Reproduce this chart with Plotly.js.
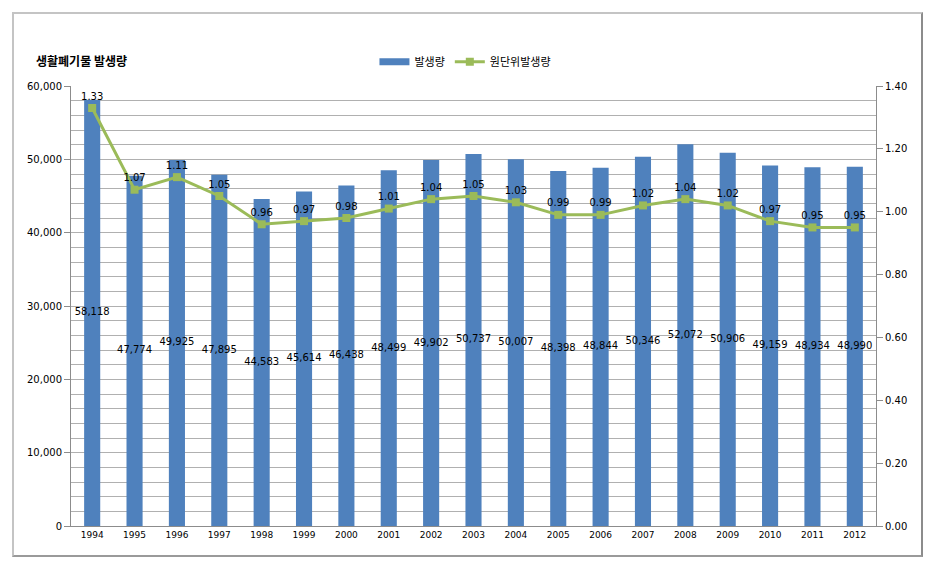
<!DOCTYPE html>
<html>
<head>
<meta charset="utf-8">
<script src="https://cdn.plot.ly/plotly-3.0.1.min.js"></script>
<style>
  html, body { margin: 0; padding: 0; background: #fff; }
  #wrap { position: relative; width: 930px; height: 564px; }
  #chart { position: absolute; left: 0; top: 0; width: 930px; height: 564px; }
  #frame { position: absolute; left: 12px; top: 12px; width: 907px; height: 541px;
           border-left: 2px solid #c4c4c4; border-top: 2px solid #c4c4c4;
           border-right: 2px solid #8c8c8c; border-bottom: 2px solid #9a9a9a;
           pointer-events: none; }
</style>
</head>
<body>
<div id="wrap">
  <div id="chart"></div>
  <div id="frame"></div>
</div>
<script>
const years = ['1994','1995','1996','1997','1998','1999','2000','2001','2002','2003',
               '2004','2005','2006','2007','2008','2009','2010','2011','2012'];
const generation = [58118, 47774, 49925, 47895, 44583, 45614, 46438, 48499, 49902, 50737,
                    50007, 48398, 48844, 50346, 52072, 50906, 49159, 48934, 48990];
const perUnit = [1.33, 1.07, 1.11, 1.05, 0.96, 0.97, 0.98, 1.01, 1.04, 1.05,
                 1.03, 0.99, 0.99, 1.02, 1.04, 1.02, 0.97, 0.95, 0.95];
const leftTicks = [0, 10000, 20000, 30000, 40000, 50000, 60000];
const rightTicks = [0, 0.2, 0.4, 0.6, 0.8, 1.0, 1.2, 1.4];

const chartTitle = '생활폐기물 발생량';
const seriesBar = '발생량';
const seriesLine = '원단위발생량';

const labelFont = { family: 'DejaVu Sans, sans-serif', size: 10, color: '#000' };
const barColor = '#4F81BD';
const lineColor = '#9BBB59';

const barTrace = {
  type: 'bar', x: years, y: generation, name: seriesBar, showlegend: false,
  marker: { color: barColor }, yaxis: 'y', hoverinfo: 'skip'
};
// legend-only swatch drawn as a wide rectangle like the reference
const barLegend = {
  type: 'scatter', mode: 'lines', x: [null], y: [null], name: seriesBar,
  line: { color: barColor, width: 7 }, yaxis: 'y', hoverinfo: 'skip', legendrank: 1
};
const barLabels = {
  type: 'scatter', mode: 'text', x: years,
  y: generation.map(v => v / 2),
  text: generation.map(v => v.toLocaleString('en-US')),
  textposition: 'middle center', textfont: labelFont,
  showlegend: false, yaxis: 'y', hoverinfo: 'skip'
};
const lineTrace = {
  type: 'scatter', mode: 'lines+markers+text', x: years, y: perUnit, name: seriesLine,
  yaxis: 'y2', legendrank: 2,
  line: { color: lineColor, width: 3 },
  marker: { symbol: 'square', size: 8, color: lineColor },
  text: perUnit.map(v => v.toFixed(2)),
  textposition: 'top center', textfont: labelFont,
  hoverinfo: 'skip'
};

const layout = {
  width: 930, height: 564,
  margin: { l: 71, r: 54, t: 86, b: 38 },
  paper_bgcolor: '#fff', plot_bgcolor: '#fff',
  title: {
    text: '<b>' + chartTitle + '</b>',
    font: { family: 'Noto Sans CJK KR, sans-serif', size: 12, color: '#000' },
    x: 36 / 930, xref: 'container', xanchor: 'left',
    y: 1 - 62 / 564, yref: 'container', yanchor: 'middle'
  },
  showlegend: true,
  legend: {
    orientation: 'h', x: 0.49, xanchor: 'center', y: 1.055, yanchor: 'middle',
    font: { family: 'Noto Sans CJK KR, sans-serif', size: 11, color: '#000' },
    bgcolor: 'rgba(0,0,0,0)', itemwidth: 30, traceorder: 'normal'
  },
  bargap: 0.62,
  xaxis: {
    type: 'category', range: [-0.5, 18.5], autorange: false,
    showgrid: false, showline: true, linecolor: '#8c8c8c', linewidth: 1,
    ticks: '', tickfont: { family: 'DejaVu Sans, sans-serif', size: 9, color: '#000' },
    fixedrange: true
  },
  yaxis: {
    range: [0, 60000], tickvals: leftTicks, tickformat: ',d',
    showgrid: true, gridcolor: '#b0b0b0', gridwidth: 1,
    minor: { dtick: 2000, showgrid: true, gridcolor: '#b0b0b0', gridwidth: 1, ticks: '' },
    showline: true, linecolor: '#8c8c8c', linewidth: 1,
    ticks: 'outside', ticklen: 6, tickcolor: '#8c8c8c',
    tickfont: { family: 'DejaVu Sans, sans-serif', size: 10, color: '#000' },
    zeroline: false, fixedrange: true
  },
  yaxis2: {
    overlaying: 'y', side: 'right', range: [0, 1.4], tickvals: rightTicks, tickformat: '.2f',
    showgrid: false, showline: true, linecolor: '#8c8c8c', linewidth: 1,
    ticks: 'outside', ticklen: 6, tickcolor: '#8c8c8c',
    tickfont: { family: 'DejaVu Sans, sans-serif', size: 10, color: '#000' },
    zeroline: false, fixedrange: true
  }
};

Plotly.newPlot('chart', [barTrace, barLabels, barLegend, lineTrace], layout, { staticPlot: true, displayModeBar: false });
</script>
</body>
</html>
